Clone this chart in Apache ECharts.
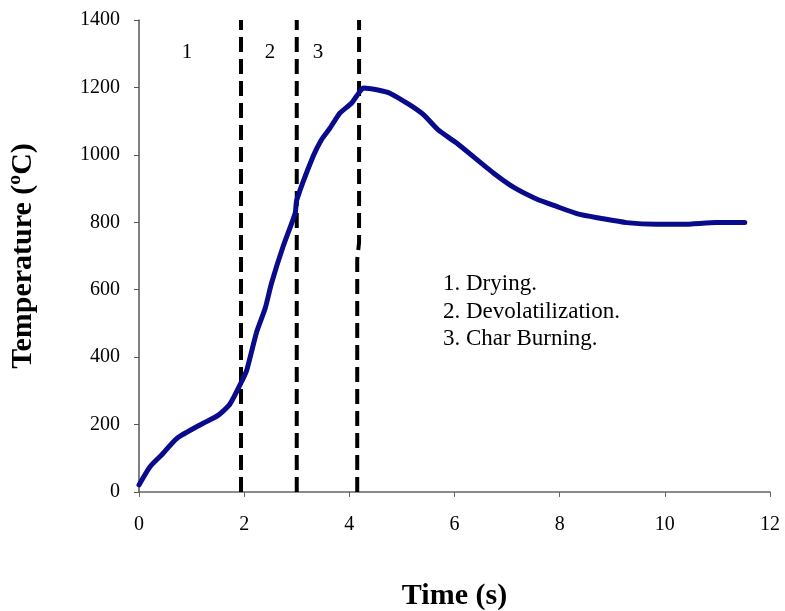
<!DOCTYPE html>
<html><head><meta charset="utf-8">
<script src="https://cdn.jsdelivr.net/npm/echarts@6/dist/echarts.min.js"></script>
<style>html,body{margin:0;padding:0;background:#fff}#c{width:785px;height:611px}</style>
</head><body><div id="c"></div>
<script>
const timeS = [0,0.21,0.43,0.72,1.22,1.51,1.73,1.95,2.05,2.24,2.40,2.52,2.74,2.97,3.0,3.31,3.47,3.63,3.82,4.04,4.20,4.27,4.52,4.77,5.15,5.41,5.69,6.04,6.74,7.12,7.56,7.94,8.36,8.77,9.27,9.84,10.35,10.98,11.52];
const tempC = [21,75,110,159,204,228,261,327,362,476,545,619,728,827,866,995,1045,1079,1124,1153,1188,1198,1193,1183,1148,1119,1074,1035,946,904,869,847,824,812,799,794,794,799,799];
const dividersBottom = [1.94, 3.0, 4.15];
const dividersTop = [1.94, 3.0, 4.185];
const stageLabels = ['1','2','3'];
const legendLines = ['1. Drying.','2. Devolatilization.','3. Char Burning.'];
const xTicks = [0,2,4,6,8,10,12];
const yTicks = [0,200,400,600,800,1000,1200,1400];

const font = '"Liberation Serif","Times New Roman",serif';
const chart = echarts.init(document.getElementById('c'));
const series = [{
  type:'line', data: timeS.map((t,i)=>[t,tempC[i]]), symbol:'none', smooth:0.2,
  lineStyle:{color:'#0a0a8c', width:5, cap:'round', join:'round'}, z:3
}];
dividersBottom.forEach((b,i)=>{
  const t = dividersTop[i];
  series.push({type:'line', data:[[b,0],[b,690],[t,740],[t,1400]], symbol:'none', z:2,
    lineStyle:{color:'#000', width:4, type:[15,7]}});
});
chart.setOption({
  animation:false,
  grid:{left:139, right:15, top:20, bottom:119, containLabel:false, outerBoundsMode:'none'},
  xAxis:{type:'value', min:xTicks[0], max:xTicks[xTicks.length-1], interval:2,
    name:'Time (s)', nameLocation:'middle', nameGap:89,
    nameTextStyle:{fontFamily:font, fontSize:30, fontWeight:'bold', color:'#000'},
    axisLine:{lineStyle:{color:'#666', width:1.5}}, axisTick:{show:true, length:5, lineStyle:{color:'#666'}},
    axisLabel:{fontFamily:font, fontSize:20, color:'#000', margin:23}, splitLine:{show:false}},
  yAxis:{type:'value', min:yTicks[0], max:yTicks[yTicks.length-1], interval:200,
    name:'Temperature (ºC)', nameLocation:'middle', nameGap:101, nameRotate:90,
    nameTextStyle:{fontFamily:font, fontSize:30, fontWeight:'bold', color:'#000'},
    axisLine:{show:true, lineStyle:{color:'#555', width:1.5}}, axisTick:{show:true, length:5, lineStyle:{color:'#555'}},
    axisLabel:{fontFamily:font, fontSize:20, color:'#000', margin:19, formatter:v=>String(v)}, splitLine:{show:false}},
  graphic: [
    ...stageLabels.map((s,i)=>({type:'text', x:[187,270,318][i], y:52,
      style:{text:s, font:'21px '+font, fill:'#000', align:'center', verticalAlign:'middle'}})),
    ...legendLines.map((s,i)=>({type:'text', x:443, y:[284,312,339][i],
      style:{text:s, font:'23px '+font, fill:'#000', align:'left', verticalAlign:'middle'}}))
  ],
  series
});
</script></body></html>
